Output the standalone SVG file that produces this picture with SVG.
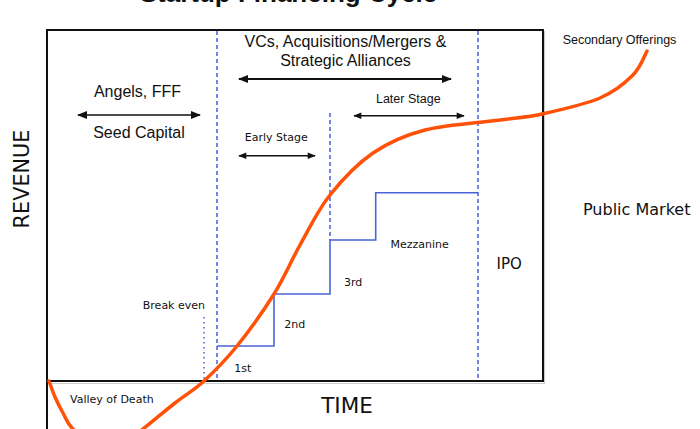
<svg xmlns="http://www.w3.org/2000/svg" width="700" height="429" viewBox="0 0 700 429">
<defs>
<marker id="ah" viewBox="0 0 10 8" refX="9" refY="4" markerWidth="10" markerHeight="8" markerUnits="userSpaceOnUse" orient="auto-start-reverse">
<path d="M0,0 L10,4 L0,8 Z" fill="#111"/>
</marker>
<marker id="ahs" viewBox="0 0 10 8" refX="9" refY="4" markerWidth="9" markerHeight="6.5" markerUnits="userSpaceOnUse" orient="auto-start-reverse">
<path d="M0,0 L10,4 L0,8 Z" fill="#111"/>
</marker>
<marker id="ahl" viewBox="0 0 10 8" refX="9" refY="4" markerWidth="12" markerHeight="8" markerUnits="userSpaceOnUse" orient="auto-start-reverse">
<path d="M0,0 L10,4 L0,8 Z" fill="#111"/>
</marker>
</defs>
<style>
.sans{font-family:"Liberation Sans",Arial,sans-serif;fill:#111}
.dv{font-family:"DejaVu Sans",Verdana,sans-serif;fill:#111}
.dash{stroke:#3a52d8;stroke-width:1.4;stroke-dasharray:4 3;fill:none}
.step{stroke:#4a63d8;stroke-width:1.6;fill:none}
.arr{stroke:#111;fill:none}
</style>
<rect width="700" height="429" fill="#fff"/>
<text class="sans" x="288.5" y="2" font-size="26" font-weight="bold" text-anchor="middle">Startup Financing Cycle</text>
<g id="frame">
<path d="M48,383.5 H544.5 V31" stroke="#ccc" stroke-width="1.2" fill="none"/>
<rect x="47" y="30" width="496" height="351" fill="none" stroke="#111" stroke-width="2"/>
<line x1="47" y1="381" x2="47" y2="429" stroke="#111" stroke-width="2"/>
</g>
<g id="dividers">
<line class="dash" x1="217" y1="31" x2="217" y2="381"/>
<line class="dash" x1="478" y1="31" x2="478" y2="381"/>
<line class="dash" x1="330" y1="113" x2="330" y2="240"/>
<line x1="204" y1="317" x2="204" y2="381" stroke="#3a52d8" stroke-width="1.4" stroke-dasharray="1.5 3.5"/>
</g>
<g id="steps">
<path class="step" d="M217,346 H274 V294 H330 V240 H375.7 V192.7 H478"/>
</g>
<g id="connectors">
<line class="arr" x1="239" y1="79" x2="451" y2="79" stroke-width="2" marker-start="url(#ahl)" marker-end="url(#ahl)"/>
<line class="arr" x1="78" y1="115" x2="200" y2="115" stroke-width="1.6" marker-start="url(#ah)" marker-end="url(#ah)"/>
<line class="arr" x1="354" y1="115.7" x2="464" y2="115.7" stroke-width="1.4" marker-start="url(#ahs)" marker-end="url(#ahs)"/>
<line class="arr" x1="239" y1="155.7" x2="315" y2="155.7" stroke-width="1.4" marker-start="url(#ahs)" marker-end="url(#ahs)"/>
</g>
<g id="curve">
<path d="M49,381 C50,383.7 52.7,391.7 55,397 C57.3,402.3 60,407.7 63,413 C66,418.3 66.8,423.3 73,429 C79.2,434.7 91.3,444.8 100,447 C108.7,449.2 117.8,445 125,442 C132.2,439 134.7,435.5 143,429 C151.3,422.5 164.8,411 175,403 C185.2,395 193.7,390.5 204,381 C214.3,371.5 225.3,360.5 237,346 C248.7,331.5 263.5,310.8 274,294 C284.5,277.2 290.7,261.5 300,245 C309.3,228.5 317.8,210.3 330,195 C342.2,179.7 357.2,163.8 373,153 C388.8,142.2 403.8,135.5 425,130 C446.2,124.5 480.5,122.7 500,120 C519.5,117.3 525.3,117.7 542,114 C558.7,110.3 584.8,104.5 600,98 C615.2,91.5 625.2,82.8 633,75 C640.8,67.2 644.7,55 647,51" fill="none" stroke="#ff5208" stroke-width="3.5" stroke-linecap="round"/>
</g>
<g id="labels">
<text class="sans" x="345.5" y="47.3" font-size="16" text-anchor="middle">VCs, Acquisitions/Mergers &amp;</text>
<text class="sans" x="345.5" y="65.7" font-size="16" text-anchor="middle">Strategic Alliances</text>
<text class="sans" x="137.5" y="96.7" font-size="16" text-anchor="middle">Angels, FFF</text>
<text class="sans" x="139" y="138.3" font-size="16" text-anchor="middle">Seed Capital</text>
<text class="sans" x="408.3" y="102.7" font-size="12.5" text-anchor="middle">Later Stage</text>
<text class="dv" x="276.3" y="141" font-size="11" text-anchor="middle">Early Stage</text>
<text class="sans" x="619.5" y="44" font-size="12.5" text-anchor="middle">Secondary Offerings</text>
<text class="dv" x="583" y="215" font-size="16">Public Market</text>
<text class="dv" x="496.5" y="269.3" font-size="15">IPO</text>
<text class="dv" x="390.5" y="247.7" font-size="11">Mezzanine</text>
<text class="dv" x="344" y="285.7" font-size="11">3rd</text>
<text class="dv" x="284.3" y="328.3" font-size="11">2nd</text>
<text class="dv" x="234.3" y="371.7" font-size="11">1st</text>
<text class="dv" x="205" y="309.3" font-size="11" text-anchor="end">Break even</text>
<text class="dv" x="70" y="402.7" font-size="11">Valley of Death</text>
<text class="dv" x="347" y="413.3" font-size="21.5" text-anchor="middle">TIME</text>
<text class="dv" x="0" y="0" font-size="20.8" text-anchor="middle" transform="translate(29,179) rotate(-90)">REVENUE</text>
</g>
</svg>
